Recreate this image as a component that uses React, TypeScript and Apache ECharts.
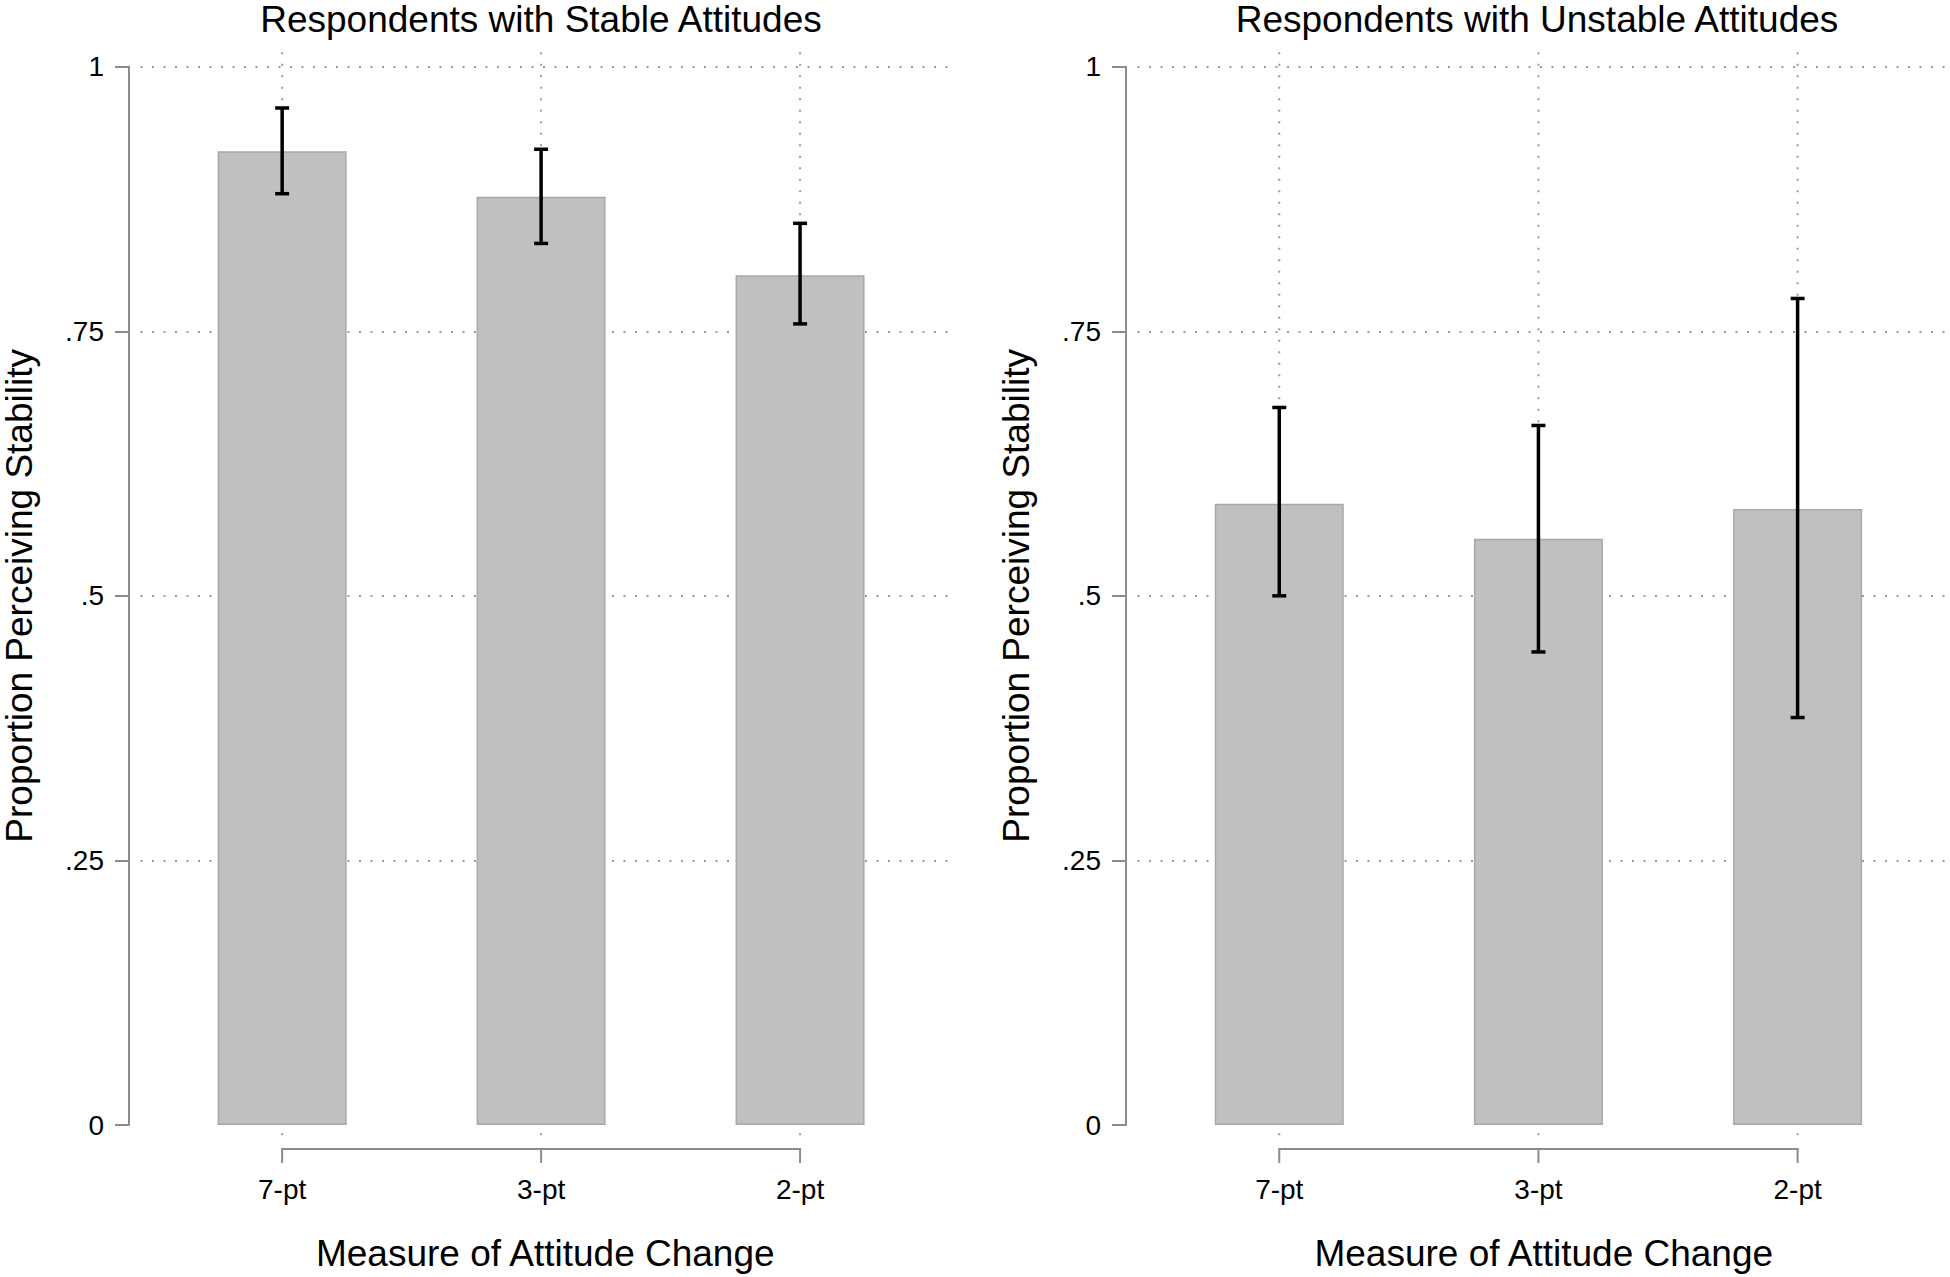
import React, { useEffect, useRef } from "react";
import * as echarts from "echarts";

const categories = ["7-pt", "3-pt", "2-pt"];
const xPositions = [1, 2, 3];
const yTickLabels = ["0", ".25", ".5", ".75", "1"];

const panelTitles = ["Respondents with Stable Attitudes", "Respondents with Unstable Attitudes"];
const yAxisTitle = "Proportion Perceiving Stability";
const xAxisTitle = "Measure of Attitude Change";

const stableMean = [0.92, 0.877, 0.803];
const stableLo = [0.88, 0.833, 0.757];
const stableHi = [0.961, 0.922, 0.852];

const unstableMean = [0.587, 0.554, 0.582];
const unstableLo = [0.5, 0.447, 0.385];
const unstableHi = [0.678, 0.661, 0.781];

const FONT = '"Liberation Sans", Arial, Helvetica, sans-serif';
const AXIS_GRAY = "#8c8c8c";
const GRID_GRAY = "#9a9a9a";

function buildPanel(i: number, mean: number[], lo: number[], hi: number[]) {
  const series: any[] = [];
  series.push({
    type: "custom",
    xAxisIndex: i,
    yAxisIndex: i,
    z: 1,
    silent: true,
    clip: false,
    data: xPositions.map((x) => [x]),
    encode: { x: 0 },
    renderItem: (_p: any, api: any) => {
      const x = api.value(0);
      const top = api.coord([x, 1]);
      const bot = api.coord([x, 0]);
      return {
        type: "line",
        shape: { x1: top[0], y1: top[1] - 14.5, x2: bot[0], y2: bot[1] + 12 },
        style: { stroke: GRID_GRAY, lineWidth: 2, lineDash: [2, 9.5] },
      };
    },
  });
  series.push({
    type: "bar",
    xAxisIndex: i,
    yAxisIndex: i,
    z: 2,
    barWidth: 129,
    silent: true,
    data: xPositions.map((x, j) => [x, mean[j]]),
    itemStyle: { color: "#c0c0c0", borderColor: "#a8a8a8", borderWidth: 1.5 },
  });
  series.push({
    type: "custom",
    xAxisIndex: i,
    yAxisIndex: i,
    z: 3,
    silent: true,
    clip: false,
    data: xPositions.map((x, j) => [x, lo[j], hi[j]]),
    encode: { x: 0, y: [1, 2] },
    renderItem: (_p: any, api: any) => {
      const x = api.value(0);
      const a = api.coord([x, api.value(1)]);
      const b = api.coord([x, api.value(2)]);
      const hw = 7;
      const st = { stroke: "#000", lineWidth: 3.5 };
      return {
        type: "group",
        children: [
          { type: "line", shape: { x1: a[0], y1: a[1], x2: b[0], y2: b[1] }, style: st },
          { type: "line", shape: { x1: a[0] - hw, y1: a[1], x2: a[0] + hw, y2: a[1] }, style: st },
          { type: "line", shape: { x1: b[0] - hw, y1: b[1], x2: b[0] + hw, y2: b[1] }, style: st },
        ],
      };
    },
  });
  // x axis line (spanning first to last category) and its ticks
  series.push({
    type: "custom",
    xAxisIndex: i,
    yAxisIndex: i,
    z: 3,
    silent: true,
    clip: false,
    data: [[xPositions[0]]],
    encode: { x: 0 },
    renderItem: (_p: any, api: any) => {
      const a = api.coord([xPositions[0], 0]);
      const b = api.coord([xPositions[xPositions.length - 1], 0]);
      const y = a[1] + 24;
      const st = { stroke: AXIS_GRAY, lineWidth: 2 };
      const children: any[] = [
        { type: "line", shape: { x1: a[0] - 1, y1: y, x2: b[0] + 1, y2: y }, style: st },
      ];
      xPositions.forEach((xv) => {
        const p = api.coord([xv, 0]);
        children.push({ type: "line", shape: { x1: p[0], y1: y, x2: p[0], y2: y + 14 }, style: st });
      });
      return { type: "group", children };
    },
  });
  return series;
}

function xAxisFor(i: number, max: number) {
  return {
    gridIndex: i,
    type: "value",
    min: 0.453,
    max,
    offset: 24,
    axisLine: { show: false },
    axisTick: { show: false },
    axisLabel: {
      customValues: xPositions,
      formatter: (v: number) => categories[Math.round(v) - 1] ?? "",
      fontSize: 28,
      fontFamily: FONT,
      color: "#000",
      margin: 26,
    },
    splitLine: { show: false },
    name: xAxisTitle,
    nameLocation: "middle",
    nameGap: 86,
    nameTextStyle: { fontSize: 37, fontFamily: FONT, color: "#000" },
  };
}

function yAxisFor(i: number) {
  return {
    gridIndex: i,
    type: "value",
    min: 0,
    max: 1,
    interval: 0.25,
    offset: 11.5,
    axisLine: { show: true, lineStyle: { color: AXIS_GRAY, width: 2 } },
    axisTick: { show: true, length: 14, lineStyle: { color: AXIS_GRAY, width: 2 } },
    axisLabel: {
      formatter: (v: number) => yTickLabels[Math.round(v * 4)] ?? "",
      fontSize: 28,
      fontFamily: FONT,
      color: "#000",
      margin: 25,
    },
    splitLine: {
      show: true,
      showMinLine: false,
      lineStyle: { color: GRID_GRAY, width: 2, type: [2, 9.5] },
    },
    name: yAxisTitle,
    nameLocation: "middle",
    nameRotate: 90,
    nameGap: 91,
    nameTextStyle: { fontSize: 37, fontFamily: FONT, color: "#000" },
  };
}

export default function App() {
  const ref = useRef<HTMLDivElement>(null);
  useEffect(() => {
    if (!ref.current) return;
    const chart = echarts.init(ref.current, undefined, { renderer: "svg" });
    const titleX = [541, 1537];
    chart.setOption({
      animation: false,
      backgroundColor: "#fff",
      grid: [
        { left: 140, right: 1000, top: 66.7, bottom: 152 },
        { left: 1137.5, right: 0, top: 66.7, bottom: 152 },
      ],
      xAxis: [xAxisFor(0, 3.579), xAxisFor(1, 3.588)],
      yAxis: [yAxisFor(0), yAxisFor(1)],
      graphic: panelTitles.map((t, i) => ({
        type: "text",
        x: titleX[i],
        y: 1,
        silent: true,
        style: {
          text: t,
          fontSize: 37,
          fontFamily: FONT,
          fill: "#000",
          textAlign: "center",
          align: "center",
          textVerticalAlign: "top",
          verticalAlign: "top",
        },
      })),
      series: [
        ...buildPanel(0, stableMean, stableLo, stableHi),
        ...buildPanel(1, unstableMean, unstableLo, unstableHi),
      ],
    });
    return () => chart.dispose();
  }, []);
  return (
    <div
      ref={ref}
      style={{ position: "fixed", left: 0, top: 0, width: 1950, height: 1277, background: "#fff" }}
    />
  );
}
